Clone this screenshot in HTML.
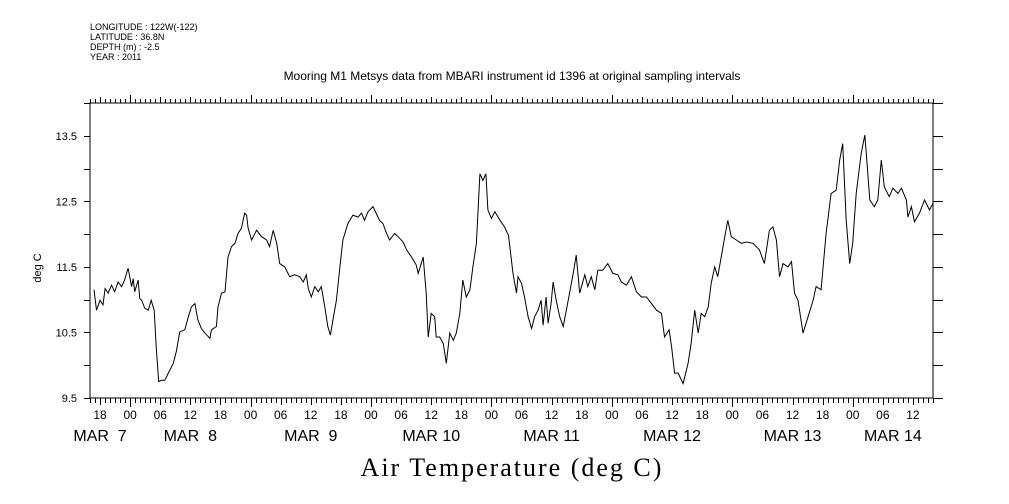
<!DOCTYPE html>
<html><head><meta charset="utf-8"><style>
body{margin:0;background:#fff;}
svg{display:block;font-family:"Liberation Sans",sans-serif;}
</style></head><body>
<svg id="chart" width="1009" height="504" xmlns="http://www.w3.org/2000/svg">
<g font-size="9" fill="#000">
<text x="90" y="30">LONGITUDE : 122W(-122)</text>
<text x="90" y="40">LATITUDE : 36.8N</text>
<text x="90" y="50">DEPTH (m) : -2.5</text>
<text x="90" y="60">YEAR : 2011</text>
</g>
<text x="512" y="80" text-anchor="middle" font-size="12">Mooring M1 Metsys data from MBARI instrument id 1396 at original sampling intervals</text>
<text transform="translate(41,268) rotate(-90)" text-anchor="middle" font-size="11">deg C</text>
<text x="512" y="476" text-anchor="middle" font-size="26" letter-spacing="2" font-family="Liberation Serif, serif">Air Temperature (deg C)</text>
<g id="axes"></g>
<g id="series"></g>
</svg>
<script>
const hours=[-7.2,-6.7,-6.0,-5.4,-5.0,-4.4,-3.7,-3.1,-2.4,-1.7,-1.1,-0.4,0.3,0.6,0.9,1.6,1.9,2.3,2.9,3.6,4.2,4.8,5.2,5.7,6.2,6.9,7.6,8.6,9.2,9.9,10.9,11.6,12.2,12.9,13.5,14.2,14.9,15.9,16.2,17.2,17.5,18.2,18.9,19.5,20.2,20.9,21.5,22.2,22.8,23.2,23.5,24.2,25.2,26.2,27.2,27.8,28.5,29.2,29.8,30.8,31.8,32.8,33.8,34.5,35.1,35.5,36.1,36.8,37.5,38.1,38.8,39.4,39.9,40.4,41.1,41.8,42.4,43.4,44.4,45.4,46.1,46.7,47.4,48.4,49.4,
49.7,50.4,51.1,51.7,52.7,53.4,54.4,55.1,56.1,57.0,57.4,58.0,58.4,59.0,59.4,60.0,60.7,61.0,61.7,62.4,63.0,63.7,64.4,65.0,65.7,66.3,67.0,67.7,68.3,69.0,69.7,70.3,70.9,71.3,72.0,72.7,73.7,74.6,75.4,76.3,77.0,77.3,78.0,78.6,79.3,80.0,80.6,81.3,81.9,82.3,82.9,83.3,83.9,84.3,84.9,85.6,86.3,87.3,88.3,88.9,89.6,90.6,91.2,91.9,92.6,93.2,94.2,95.2,96.2,97.2,97.9,98.9,99.9,100.9,101.9,102.9,103.9,104.9,105.9,106.5,107.4,107.9,108.5,
109.2,110.2,111.2,111.8,112.5,113.2,113.8,114.5,115.2,115.8,116.5,117.1,117.8,118.5,119.1,119.8,120.8,121.8,122.8,124.1,125.4,126.4,127.4,128.1,128.8,129.4,130.1,131.1,131.8,132.4,133.1,134.1,135.1,136.1,136.7,137.7,138.1,138.7,139.7,140.7,141.4,142.0,142.7,143.4,144.0,144.7,145.7,146.4,146.7,147.4,148.3,149.0,149.7,150.3,151.3,152.0,153.0,153.7,154.7,155.0,155.7,156.3,157.3,158.3,159.3,160.0];
const temps=[11.15,10.84,10.99,10.92,11.17,11.10,11.22,11.12,11.27,11.20,11.30,11.48,11.20,11.32,11.12,11.30,11.02,10.99,10.87,10.84,10.99,10.84,10.28,9.75,9.77,9.77,9.88,10.03,10.21,10.51,10.54,10.74,10.89,10.94,10.69,10.56,10.49,10.41,10.54,10.59,10.89,11.10,11.12,11.65,11.81,11.86,12.01,12.09,12.32,12.29,12.09,11.91,12.06,11.96,11.91,11.81,12.06,11.86,11.55,11.50,11.35,11.38,11.35,11.27,11.38,11.17,11.04,11.20,11.12,11.20,10.89,10.59,10.46,10.69,10.99,11.50,11.91,12.16,12.29,12.26,12.32,12.21,12.34,12.42,12.26,
12.21,12.16,12.01,11.91,12.01,11.96,11.88,11.76,11.65,11.53,11.40,11.55,11.65,11.10,10.43,10.79,10.74,10.43,10.43,10.33,10.03,10.49,10.38,10.49,10.79,11.30,11.04,11.15,11.50,11.86,12.92,12.82,12.92,12.37,12.24,12.34,12.21,12.11,11.98,11.40,11.10,11.35,11.25,11.04,10.74,10.56,10.74,10.84,10.99,10.61,11.04,10.64,10.94,11.27,10.99,10.74,10.59,10.99,11.40,11.68,11.10,11.38,11.20,11.35,11.15,11.45,11.45,11.55,11.40,11.38,11.27,11.22,11.35,11.12,11.04,11.04,10.94,10.84,10.79,10.43,10.54,10.28,9.88,
9.88,9.72,10.03,10.33,10.84,10.49,10.79,10.74,10.89,11.25,11.50,11.35,11.65,11.96,12.21,11.96,11.91,11.86,11.88,11.86,11.76,11.55,12.06,12.11,11.91,11.35,11.55,11.50,11.58,11.10,10.99,10.49,10.74,10.99,11.20,11.15,11.50,12.01,12.62,12.67,13.13,13.38,12.21,11.55,11.86,12.62,13.23,13.51,13.23,12.52,12.42,12.52,13.13,12.72,12.57,12.70,12.62,12.70,12.52,12.26,12.42,12.19,12.32,12.52,12.37,12.47];
const yTickLabels=["9.5","10.5","11.5","12.5","13.5"];
const hourLabels=["18","00","06","12"];
const dayLabels=["MAR  7","MAR  8","MAR  9","MAR 10","MAR 11","MAR 12","MAR 13","MAR 14"];
const dayLabelHours=[-6,12,36,60,84,108,132,152];

const L=90,R=933,T=103,B=398,H0=-8,H1=160,V0=9.5,V1=14.0;
const xs=h=>L+(h-H0)/(H1-H0)*(R-L);
const ys=v=>B-(v-V0)/(V1-V0)*(B-T);
const NS="http://www.w3.org/2000/svg";
const axes=document.getElementById('axes');
function mk(tag,attrs,parent){const e=document.createElementNS(NS,tag);for(const k in attrs)e.setAttribute(k,attrs[k]);parent.appendChild(e);return e;}
const frame=mk('rect',{x:L,y:T,width:R-L,height:B-T,fill:'none',stroke:'#000','stroke-width':1},axes);


let tp='';
for(let h=Math.ceil(H0);h<=H1;h++){
  const x=Math.round(xs(h))+0.5;
  const len=(h%24===0)?9:(h%6===0?7:5);
  tp+=`M${x} ${B}v${len}M${x} ${T}v-${len-1}`;
}
for(let v=V0;v<=V1+1e-6;v+=0.5){
  const y=Math.round(ys(v))+0.5;
  tp+=`M${L} ${y}h-6M${R} ${y}h10`;
}
const ticks=mk('path',{d:tp,stroke:'#000','stroke-width':1,fill:'none'},axes);


yTickLabels.forEach(s=>{
  const t=mk('text',{x:77,y:ys(parseFloat(s))+4,'text-anchor':'end','font-size':11},axes);
  t.textContent=s;
  
  
});
for(let h=Math.ceil(H0/6)*6;h<=H1;h+=6){
  const hh=((h%24)+24)%24;
  const t=mk('text',{x:xs(h),y:419,'text-anchor':'middle','font-size':12},axes);
  t.textContent=hourLabels[[18,0,6,12].indexOf(hh)];
  
  
}
dayLabels.forEach((s,i)=>{
  const t=mk('text',{x:xs(dayLabelHours[i]),y:441,'text-anchor':'middle','font-size':16},axes);
  t.style.whiteSpace='pre';
  t.textContent=s;
  
  
});
const d=hours.map((h,i)=>(i?'L':'M')+xs(h).toFixed(1)+' '+ys(temps[i]).toFixed(1)).join('');
const line=mk('path',{d:d,fill:'none',stroke:'#000','stroke-width':1},document.getElementById('series'));


</script>
</body></html>
